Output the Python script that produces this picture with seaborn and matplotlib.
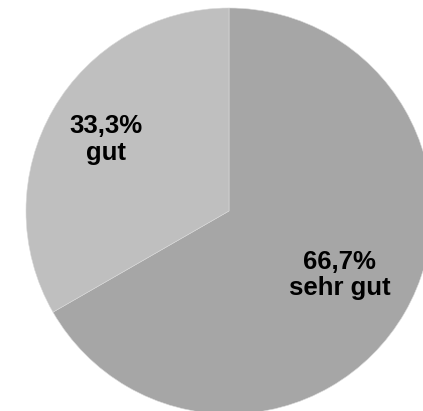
#!/usr/bin/env python3
# -*- coding: utf-8 -*-
"""
Bewertung: Anteil sehr gut / gut als Kreisdiagramm
"""

import numpy as np
import matplotlib
matplotlib.use('Agg')
import matplotlib.pyplot as plt
import seaborn as sns

# Daten
kategorien = ['sehr gut', 'gut']
anteile = [66.7, 33.3]
farben = ['#a6a6a6', '#bfbfbf']
label_abstand = [0.63, 0.70]


def main():
    sns.set_theme(style='white')
    plt.rcParams['font.family'] = ['Liberation Sans', 'DejaVu Sans']

    fig = plt.figure(figsize=(4.23, 4.11), dpi=100)
    ax = fig.add_axes([0, 0, 1, 1])

    wedges, _ = ax.pie(
        anteile,
        colors=farben,
        startangle=90,
        counterclock=False,
        radius=1.0,
        wedgeprops=dict(edgecolor='#d9d9d9', linewidth=0.4),
    )

    # Beschriftung in der Mitte jedes Segments
    for w, kat, wert, d in zip(wedges, kategorien, anteile, label_abstand):
        mitte = np.deg2rad((w.theta1 + w.theta2) / 2)
        txt = f"{wert:.1f}%".replace('.', ',') + "\n" + kat
        ax.text(d * np.cos(mitte), d * np.sin(mitte), txt,
                ha='center', va='center', fontsize=18.5,
                fontweight='bold', color='black', linespacing=1.15)

    # Kreis etwas groesser als das Bild (Mitte bei 229/211 px, Radius 203 px)
    r_px = 203.0
    ax.set_xlim(-229 / r_px, (423 - 229) / r_px)
    ax.set_ylim(-(411 - 211) / r_px, 211 / r_px)
    ax.set_aspect('auto')
    ax.axis('off')

    fig.savefig('out.png', dpi=100, facecolor='white')


if __name__ == "__main__":
    main()
